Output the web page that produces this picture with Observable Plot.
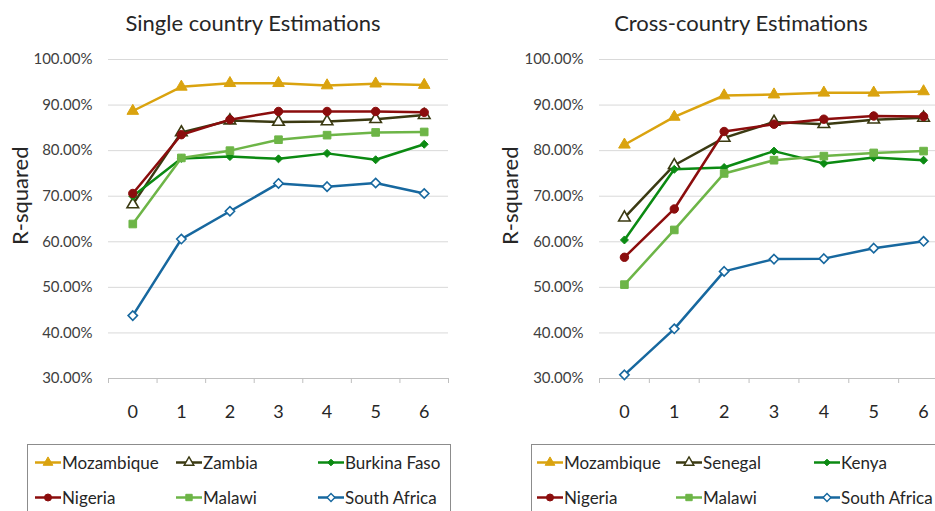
<!DOCTYPE html>
<html>
<head>
<meta charset="utf-8">
<script src="https://cdn.jsdelivr.net/npm/d3@7"></script>
<script src="https://cdn.jsdelivr.net/npm/@observablehq/plot@0.6"></script>
<style>
  html, body { margin: 0; padding: 0; background: #fff; width: 935px; height: 511px; overflow: hidden; }
  #root { position: relative; width: 935px; height: 511px; overflow: hidden; font-family: Lato, "Open Sans", sans-serif; }
  .panel { position: absolute; top: 0; }
  .panel svg { max-width: none !important; display: block; }
  .title { position: absolute; top: 9px; font-size: 22px; color: #262626; white-space: nowrap; transform: translateX(-50%); }
  .legend { position: absolute; top: 444px; height: 90px; border: 1px solid #8c8c8c; background: #fff; box-sizing: border-box; }
  .item { position: absolute; display: flex; align-items: center; font-size: 17px; color: #262626; white-space: nowrap; transform: translateY(-50%); }
  .item svg { margin-right: 1px; }
</style>
</head>
<body>
<div id="root"></div>
<script>
// ---- data ----
const lags = [0, 1, 2, 3, 4, 5, 6];
const yTicks = [0.3, 0.4, 0.5, 0.6, 0.7, 0.8, 0.9, 1.0];
const axisBounds = [-0.5, 0.5, 1.5, 2.5, 3.5, 4.5, 5.5, 6.5];

const singleTitle = "Single country Estimations";
const crossTitle = "Cross-country Estimations";
const yLabel = "R-squared";

const singleSeries = ["Mozambique", "Zambia", "Burkina Faso", "Nigeria", "Malawi", "South Africa"];
const singleMozambique = [88.7, 94.0, 94.8, 94.8, 94.3, 94.7, 94.4];
const singleZambia     = [68.2, 84.0, 86.6, 86.3, 86.4, 86.9, 87.8];
const singleBurkina    = [70.0, 78.3, 78.7, 78.2, 79.4, 78.0, 81.4];
const singleNigeria    = [70.6, 83.5, 86.8, 88.6, 88.6, 88.6, 88.4];
const singleMalawi     = [63.9, 78.4, 80.0, 82.4, 83.4, 84.0, 84.1];
const singleSouthAfr   = [43.8, 60.6, 66.7, 72.8, 72.1, 72.9, 70.6];

const crossSeries = ["Mozambique", "Senegal", "Kenya", "Nigeria", "Malawi", "South Africa"];
const crossMozambique = [81.3, 87.4, 92.1, 92.3, 92.7, 92.7, 93.0];
const crossSenegal    = [65.3, 76.8, 82.8, 86.3, 85.8, 86.8, 87.2];
const crossKenya      = [60.4, 75.9, 76.3, 79.9, 77.2, 78.5, 77.9];
const crossNigeria    = [56.6, 67.2, 84.2, 85.8, 86.9, 87.6, 87.5];
const crossMalawi     = [50.6, 62.6, 75.0, 77.9, 78.8, 79.5, 79.9];
const crossSouthAfr   = [30.8, 40.9, 53.5, 56.2, 56.3, 58.6, 60.1];

// ---- styles (by series position) ----
const styles = [
  {color: "#daa30f", symbol: "triangle", open: false, r: 4.3},
  {color: "#3b3a12", symbol: "triangle", open: true,  r: 4.3},
  {color: "#0b8a12", symbol: "diamond2", open: false, r: 3.6},
  {color: "#8b0d0d", symbol: "circle",   open: false, r: 4.2},
  {color: "#6db547", symbol: "square",   open: false, r: 4.3},
  {color: "#17689f", symbol: "diamond2", open: true,  r: 4.2}
];

const root = document.getElementById("root");

function makePanel({names, values, left, width, marginLeft, marginRight, labelDx, title, titleX, legendLeft, legendWidth, itemCols}) {
  const height = 440;
  const marks = [
    Plot.ruleY(yTicks.slice(1), {stroke: "#d9d9d9", strokeWidth: 1}),
    Plot.ruleY([yTicks[0]], {stroke: "#bfbfbf", strokeWidth: 1}),
    Plot.axisX(axisBounds, {tickSize: 5, tickFormat: () => "", label: null, color: "#bfbfbf"}),
    Plot.axisX(lags, {tickSize: 0, tickPadding: 27, tickFormat: d => String(d), label: null, fontSize: 18, color: "#262626"}),
    Plot.axisY(yTicks, {tickSize: 0, tickPadding: 16, tickFormat: d3.format(".2%"), label: null, fontSize: 15, color: "#404040"}),
    Plot.text([yLabel], {frameAnchor: "left", dx: labelDx, dy: 26, rotate: -90, fontSize: 22, fill: "#262626", text: d => d})
  ];
  names.forEach((name, i) => {
    const st = styles[i];
    const rows = lags.map((x, j) => ({series: name, x, y: values[i][j] / 100}));
    marks.push(Plot.line(rows, {x: "x", y: "y", stroke: st.color, strokeWidth: 2.5}));
    marks.push(Plot.dot(rows, {
      x: "x", y: "y", symbol: st.symbol, r: st.r,
      fill: st.open ? "#ffffff" : st.color,
      stroke: st.color, strokeWidth: st.open ? 1.6 : 1
    }));
  });
  const svg = Plot.plot({
    width, height,
    marginTop: 59, marginBottom: 62, marginLeft, marginRight,
    x: {type: "linear", domain: [-0.5, 6.5]},
    y: {type: "linear", domain: [0.3, 1.0]},
    style: {fontFamily: "Lato, 'Open Sans', sans-serif", background: "transparent", overflow: "visible", maxWidth: "none"},
    marks
  });
  const wrap = document.createElement("div");
  wrap.className = "panel";
  wrap.style.left = left + "px";
  wrap.style.width = width + "px";
  wrap.style.height = height + "px";
  wrap.appendChild(svg);
  root.appendChild(wrap);

  const t = document.createElement("div");
  t.className = "title";
  t.style.left = titleX + "px";
  t.textContent = title;
  root.appendChild(t);

  const lg = document.createElement("div");
  lg.className = "legend";
  lg.style.left = legendLeft + "px";
  lg.style.width = legendWidth + "px";
  root.appendChild(lg);
  names.forEach((name, i) => {
    const st = styles[i];
    const row = Math.floor(i / 3), col = i % 3;
    const item = document.createElement("div");
    item.className = "item";
    item.style.left = (itemCols[col]) + "px";
    item.style.top = (462 + row * 35) + "px";
    const sw = d3.create("svg").attr("width", 26).attr("height", 14);
    sw.append("line").attr("x1", 0).attr("x2", 26).attr("y1", 7).attr("y2", 7)
      .attr("stroke", st.color).attr("stroke-width", 2.5);
    sw.append("path")
      .attr("d", d3.symbol(st.symbol === "triangle" ? d3.symbolTriangle : st.symbol === "circle" ? d3.symbolCircle : st.symbol === "square" ? d3.symbolSquare : d3.symbolDiamond2, Math.PI * st.r * st.r * 0.7)())
      .attr("transform", "translate(13,7)")
      .attr("fill", st.open ? "#fff" : st.color).attr("stroke", st.color).attr("stroke-width", st.open ? 1.4 : 1);
    item.appendChild(sw.node());
    const span = document.createElement("span");
    span.textContent = name;
    item.appendChild(span);
    root.appendChild(item);
  });
}

makePanel({
  names: singleSeries,
  values: [singleMozambique, singleZambia, singleBurkina, singleNigeria, singleMalawi, singleSouthAfr],
  left: 0, width: 470, marginLeft: 108, marginRight: 22, labelDx: -88,
  title: singleTitle, titleX: 253,
  legendLeft: 27, legendWidth: 424, itemCols: [35, 176, 318]
});
makePanel({
  names: crossSeries,
  values: [crossMozambique, crossSenegal, crossKenya, crossNigeria, crossMalawi, crossSouthAfr],
  left: 470, width: 480, marginLeft: 129, marginRight: 2, labelDx: -89,
  title: crossTitle, titleX: 741,
  legendLeft: 531, legendWidth: 440, itemCols: [537, 676, 814]
});
</script>
</body>
</html>
